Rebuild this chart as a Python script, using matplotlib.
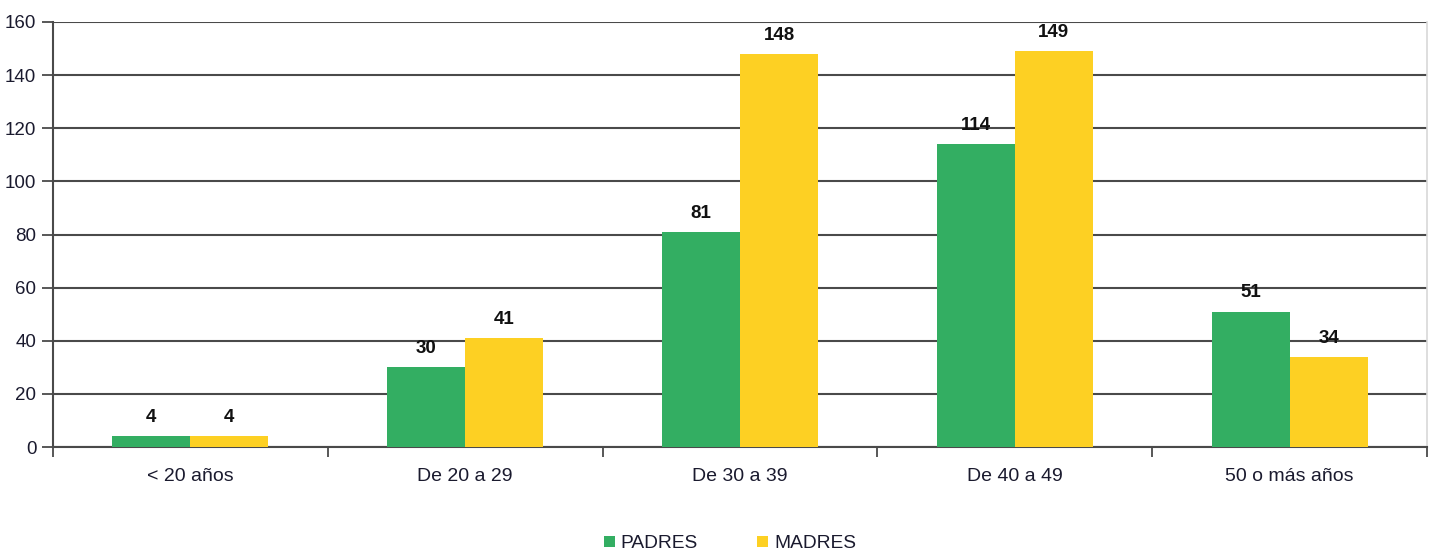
import matplotlib
matplotlib.use("Agg")
import matplotlib.pyplot as plt
import numpy as np

categories = ["< 20 años", "De 20 a 29", "De 30 a 39", "De 40 a 49", "50 o más años"]
padres = [4, 30, 81, 114, 51]
madres = [4, 41, 148, 149, 34]
series_names = ["PADRES", "MADRES"]
yticks = [0, 20, 40, 60, 80, 100, 120, 140, 160]

plt.rcParams['font.family'] = ['Liberation Sans', 'DejaVu Sans']

fig = plt.figure(figsize=(14.35, 5.52), dpi=100)
ax = fig.add_axes([53/1435, 1 - 447/552, (1427-53)/1435, (447-22)/552])

x = np.arange(len(categories))
w = 0.284
green = "#33AE62"
yellow = "#FDD023"
b1 = ax.bar(x - w/2, padres, w, color=green, label=series_names[0], zorder=3)
b2 = ax.bar(x + w/2, madres, w, color=yellow, label=series_names[1], zorder=3)

for bars, vals in ((b1, padres), (b2, madres)):
    for r, v in zip(bars, vals):
        ax.text(r.get_x() + r.get_width()/2, v + 3.8, str(v), ha='center', va='bottom',
                fontsize=13.5, fontweight='bold', color='#111111', zorder=4)

ax.set_xlim(-0.5, len(categories) - 0.5)
ax.set_ylim(0, 160)
ax.set_yticks(yticks)
ax.set_yticklabels([str(t) for t in yticks], fontsize=13.5, color='#1a1a2e')
ax.yaxis.grid(True, color='#4a4a4a', linewidth=1.5, zorder=0)
ax.set_axisbelow(True)

ax.set_xticks(x)
ax.set_xticklabels(categories, fontsize=14, color='#1a1a2e')
ax.tick_params(axis='x', length=0, pad=15)
ax.set_xticks(np.arange(-0.5, len(categories) + 0.5, 1), minor=True)
ax.tick_params(axis='x', which='minor', length=7, width=1.3, color='#4a4a4a')
ax.tick_params(axis='y', length=8, width=1.3, color='#4a4a4a', pad=4)

for s in ['left', 'bottom']:
    ax.spines[s].set_color('#4a4a4a')
    ax.spines[s].set_linewidth(1.5)
ax.spines['top'].set_visible(False)
ax.spines['right'].set_color('#d8d8d8')
ax.spines['right'].set_linewidth(1.2)

leg = fig.legend(handles=[b1, b2], labels=series_names, loc='center', ncol=2,
                 bbox_to_anchor=(730/1435, 1 - 544/552), frameon=False,
                 fontsize=13.8, handlelength=0.55, handleheight=0.55,
                 columnspacing=3.1, handletextpad=0.32)
for t in leg.get_texts():
    t.set_color('#1a1a2e')

fig.savefig("out.png", dpi=100)
